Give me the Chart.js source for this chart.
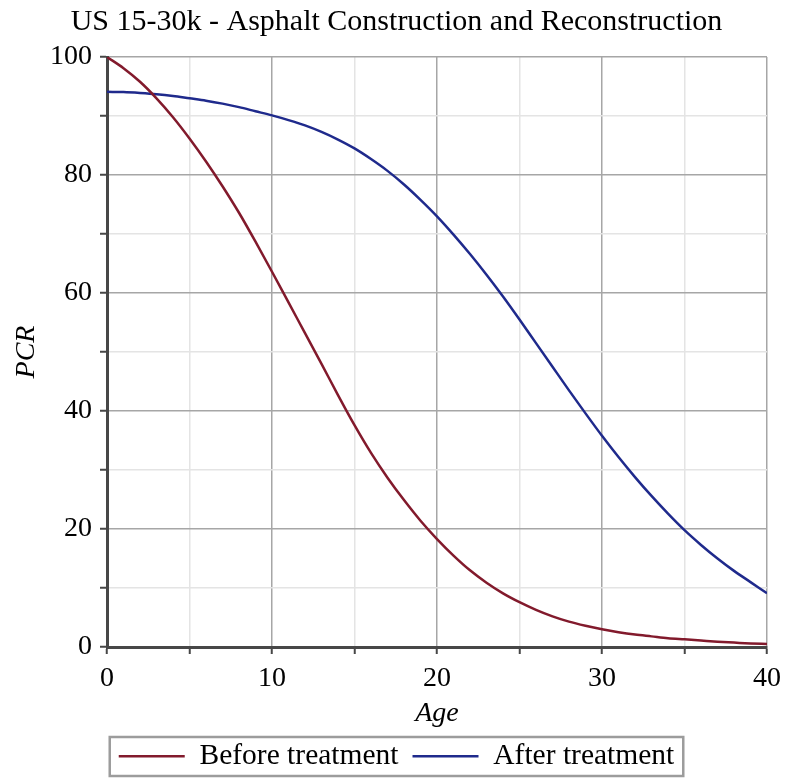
<!DOCTYPE html>
<html>
<head>
<meta charset="utf-8">
<title>US 15-30k - Asphalt Construction and Reconstruction</title>
<script src="https://cdn.jsdelivr.net/npm/chart.js@4/dist/chart.umd.min.js"></script>
<style>
  html, body { margin: 0; padding: 0; background: #ffffff; }
  #chart { display: block; }
</style>
</head>
<body>
<canvas id="chart" width="786" height="778"></canvas>
<script>
// Pavement condition rating (PCR) versus pavement age, in years
const ages = [0, 1, 2, 3, 4, 5, 6, 7, 8, 9, 10, 11, 12, 13, 14, 15, 16, 17, 18, 19, 20,
              21, 22, 23, 24, 25, 26, 27, 28, 29, 30, 31, 32, 33, 34, 35, 36, 37, 38, 39, 40];

const pcrBefore = [100, 98.1, 95.8, 93.0, 89.8, 86.2, 82.3, 78.1, 73.6, 68.7, 63.6,
                   58.4, 53.2, 48.0, 42.7, 37.6, 32.9, 28.7, 24.9, 21.4, 18.3,
                   15.5, 13.0, 10.9, 9.1, 7.6, 6.3, 5.2, 4.3, 3.6, 3.0,
                   2.5, 2.1, 1.8, 1.5, 1.3, 1.1, 0.9, 0.75, 0.6, 0.5];

const pcrAfter = [94.1, 94.05, 93.9, 93.7, 93.4, 93.0, 92.6, 92.1, 91.5, 90.8, 90.1,
                  89.3, 88.4, 87.3, 86.0, 84.5, 82.7, 80.7, 78.4, 75.8, 73.0,
                  69.9, 66.6, 63.1, 59.4, 55.5, 51.5, 47.5, 43.5, 39.6, 35.8,
                  32.2, 28.8, 25.6, 22.6, 19.8, 17.3, 15.0, 12.9, 11.0, 9.1];

const seriesNames = ['Before treatment', 'After treatment'];
const chartTitle = 'US 15-30k - Asphalt Construction and Reconstruction';
const xTitle = 'Age';
const yTitle = 'PCR';

const xMin = 0, xMax = 40, xStep = 5, xLabelEvery = 10;
const yMin = 0, yMax = 100, yStep = 10, yLabelEvery = 20;

const toPoints = (xs, ys) => xs.map((x, i) => ({ x: x, y: ys[i] }));

const SERIF = '"Liberation Serif", "Times New Roman", "DejaVu Serif", serif';
const MAJOR_GRID = '#a6a6a6';
const MINOR_GRID = '#e4e4e4';
const AXIS_DARK = '#474747';

// Draws the grey frame around the legend entries
const legendFrame = {
  id: 'legendFrame',
  afterDraw(chart) {
    const lg = chart.legend;
    if (!lg || !lg.legendHitBoxes || !lg.legendHitBoxes.length) return;
    const boxes = lg.legendHitBoxes;
    let l = Infinity, r = -Infinity, t = Infinity, b = -Infinity;
    boxes.forEach(h => {
      l = Math.min(l, h.left);
      r = Math.max(r, h.left + h.width);
      t = Math.min(t, h.top);
      b = Math.max(b, h.top + h.height);
    });
    const ctx = chart.ctx;
    ctx.save();
    ctx.strokeStyle = '#9c9c9c';
    ctx.lineWidth = 2.5;
    ctx.strokeRect(l - 9, t - 4.5, (r - l) + 18, (b - t) + 9.5);
    ctx.restore();
  }
};

Chart.defaults.color = '#000000';
Chart.defaults.font.family = SERIF;

new Chart(document.getElementById('chart'), {
  type: 'line',
  data: {
    datasets: [
      {
        label: seriesNames[0],
        data: toPoints(ages, pcrBefore),
        borderColor: '#821a2c',
        backgroundColor: '#821a2c',
        borderWidth: 2.5,
        pointRadius: 0,
        pointHoverRadius: 0,
        cubicInterpolationMode: 'monotone',
        fill: false
      },
      {
        label: seriesNames[1],
        data: toPoints(ages, pcrAfter),
        borderColor: '#1f2a8c',
        backgroundColor: '#1f2a8c',
        borderWidth: 2.5,
        pointRadius: 0,
        pointHoverRadius: 0,
        cubicInterpolationMode: 'monotone',
        fill: false
      }
    ]
  },
  options: {
    responsive: false,
    animation: false,
    devicePixelRatio: 1,
    layout: { padding: { left: 7, right: 0, top: 0, bottom: -3 } },
    plugins: {
      title: {
        display: true,
        text: chartTitle,
        color: '#000000',
        font: { family: SERIF, size: 30, weight: 'normal', lineHeight: 1.2 },
        padding: { top: 4, bottom: 17 }
      },
      legend: {
        display: true,
        position: 'bottom',
        labels: {
          color: '#000000',
          font: { family: SERIF, size: 29.5 },
          usePointStyle: true,
          pointStyle: 'line',
          pointStyleWidth: 66,
          padding: 14
        }
      },
      tooltip: { enabled: false }
    },
    scales: {
      x: {
        type: 'linear',
        min: xMin,
        max: xMax,
        afterFit(scale) {
          scale.height = 80.5;
          scale.paddingLeft = 0;
          scale.paddingRight = 19;
        },
        ticks: {
          stepSize: xStep,
          autoSkip: false,
          maxRotation: 0,
          padding: 8,
          font: { family: SERIF, size: 28 },
          color: '#000000',
          callback: v => (v % xLabelEvery === 0 ? String(v) : '')
        },
        grid: {
          color: c => (c.tick && c.tick.value % xLabelEvery === 0 ? MAJOR_GRID : MINOR_GRID),
          lineWidth: 1.5,
          drawTicks: true,
          tickLength: 7,
          tickColor: AXIS_DARK,
          tickWidth: 2
        },
        border: { display: true, color: AXIS_DARK, width: 3 },
        title: {
          display: true,
          text: xTitle,
          color: '#000000',
          font: { family: SERIF, size: 28, style: 'italic', lineHeight: 1 },
          padding: { top: 0, bottom: 0 }
        }
      },
      y: {
        type: 'linear',
        min: yMin,
        max: yMax,
        afterFit(scale) {
          scale.width = 100;
        },
        ticks: {
          stepSize: yStep,
          autoSkip: false,
          padding: 8,
          font: { family: SERIF, size: 28 },
          color: '#000000',
          callback: v => (v % yLabelEvery === 0 ? String(v) : '')
        },
        grid: {
          color: c => (c.tick && c.tick.value % yLabelEvery === 0 ? MAJOR_GRID : MINOR_GRID),
          lineWidth: 1.5,
          drawTicks: true,
          tickLength: 7,
          tickColor: AXIS_DARK,
          tickWidth: 2
        },
        border: { display: true, color: AXIS_DARK, width: 3 },
        title: {
          display: true,
          text: yTitle,
          color: '#000000',
          font: { family: SERIF, size: 28, style: 'italic', lineHeight: 1 },
          padding: { top: 6, bottom: 0 }
        }
      }
    }
  },
  plugins: [legendFrame]
});
</script>
</body>
</html>
